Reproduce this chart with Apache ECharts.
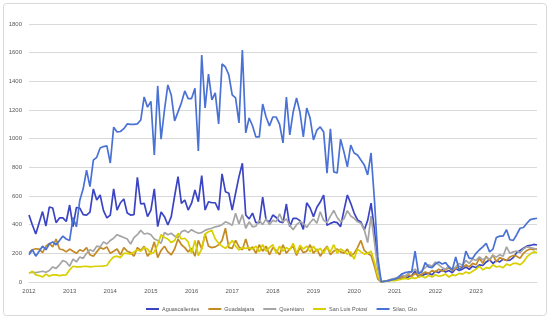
<!DOCTYPE html>
<html>
<head>
<meta charset="utf-8">
<script src="https://cdn.jsdelivr.net/npm/echarts@6.0.0/dist/echarts.min.js"></script>
<style>
html,body{margin:0;padding:0;background:#fff;}
#chart{width:550px;height:320px;}
</style>
</head>
<body>
<div id="chart"></div>
<script>
// Tick labels of the x axis (one per January)
const yearLabels = ['2012','2013','2014','2015','2016','2017','2018','2019','2020','2021','2022','2023'];
const lastYearMonths = 7; // months shown after the last full year
const seriesNames = ['Aguascalientes','Guadalajara','Querétaro','San Luis Potosí','Silao, Gto'];

const aguascalientes = [
  467,398,335,414,491,391,523,516,414,447,447,422,
  537,386,520,516,470,467,488,649,572,607,498,447,
  467,649,502,553,579,481,467,470,730,544,549,456,
  502,650,386,488,456,398,456,600,735,549,572,502,
  550,642,560,742,502,560,553,553,502,754,630,619,
  502,619,735,828,467,440,481,414,414,593,433,419,
  467,450,420,414,544,386,444,444,428,367,553,516,
  456,521,558,607,395,409,419,414,386,500,607,549,
  481,433,419,363,430,550,363,107,2,5,8,12,
  15,20,25,30,35,45,75,35,45,55,60,50,
  75,65,85,70,80,65,95,80,90,105,88,110,
  100,120,115,140,155,130,150,140,160,150,153,170,
  205,220,235,250,255,262,258
];
const guadalajara = [
  205,225,232,230,205,250,270,245,300,230,225,210,
  230,215,200,225,215,240,190,180,210,240,230,245,
  200,215,230,190,240,215,205,180,240,220,250,180,
  210,280,170,220,250,210,190,230,300,260,240,210,
  235,180,290,230,335,250,240,245,260,290,375,240,
  235,290,245,225,300,220,245,200,260,215,250,190,
  240,220,190,260,200,230,250,185,240,205,215,260,
  200,230,180,220,250,190,215,230,210,200,230,180,
  200,240,290,220,200,185,110,20,0,5,10,15,
  20,25,40,30,50,40,60,45,55,70,60,80,
  70,90,75,85,100,80,95,110,100,120,105,130,
  120,165,130,180,150,190,140,170,160,150,175,185,
  180,165,200,220,230,225,232
];
const queretaro = [
  63,68,65,70,75,68,80,105,95,120,150,140,
  110,160,140,175,165,200,225,215,250,245,280,265,
  290,305,330,320,310,300,265,310,330,360,335,340,
  330,300,290,270,345,330,340,320,310,350,360,345,
  365,350,340,345,360,370,375,385,390,400,420,410,
  395,480,405,470,375,420,385,390,430,400,440,400,
  430,420,475,420,440,395,365,400,420,410,380,415,
  440,410,490,430,415,460,500,450,420,440,498,460,
  445,420,410,365,275,460,280,90,0,5,10,20,
  25,35,50,40,60,70,90,60,80,100,120,110,
  140,120,100,90,110,85,105,130,115,150,130,160,
  150,175,155,170,160,185,175,190,180,245,200,210,
  215,205,230,245,240,235,225
];
const sanLuisPotosi = [
  60,75,50,45,35,55,40,50,50,45,48,50,
  85,110,105,105,108,110,105,108,110,110,112,115,
  150,175,180,170,200,200,195,210,225,215,240,230,
  195,210,260,330,310,300,275,290,340,300,305,280,
  200,290,185,230,335,350,360,300,270,250,235,260,
  290,250,223,240,235,240,230,250,210,260,215,240,
  260,200,250,215,240,225,270,200,255,230,250,210,
  250,215,235,200,245,210,260,200,230,215,195,210,
  160,230,210,195,200,215,140,40,0,5,10,10,
  10,15,20,25,20,30,25,35,40,30,45,35,
  50,40,45,55,35,50,45,60,55,70,60,75,
  90,110,85,100,95,120,105,110,100,125,115,130,
  130,120,140,175,195,210,205
];
const silao = [
  190,225,180,215,250,225,265,280,260,290,320,300,
  290,450,385,570,650,780,665,850,870,935,945,950,
  830,1080,1047,1050,1070,1103,1100,1100,1103,1130,1291,1220,
  1260,886,1368,997,1200,1375,1305,1124,1187,1250,1333,1280,
  1280,1352,915,1584,1214,1451,1270,1319,1103,1521,1500,1445,
  1305,1284,1110,1619,1040,1144,1090,1012,1012,1242,1151,1089,
  1151,1151,1100,970,1291,1026,1186,1284,1186,1012,1214,1144,
  991,1060,1082,1047,760,1068,768,760,997,907,803,955,
  900,886,851,817,747,900,572,175,0,5,10,15,
  20,30,55,65,70,70,215,60,70,135,105,100,
  125,140,125,135,105,85,175,85,105,215,165,165,
  200,225,245,270,210,230,310,320,320,365,295,290,
  330,375,380,410,435,440,445
];

// month categories
const months = [];
const totalYears = yearLabels.length + 1;
for (let y = 0; y < totalYears; y++) {
  const yr = String(2012 + y);
  const n = (y < yearLabels.length) ? 12 : lastYearMonths;
  for (let m = 0; m < n; m++) months.push(yr + '-' + String(m + 1).padStart(2, '0'));
}

const colors = ['#3B45C4', '#C48A24', '#A5A5A5', '#D8CF00', '#4A72D4'];
const allData = [aguascalientes, guadalajara, queretaro, sanLuisPotosi, silao];

const chart = echarts.init(document.getElementById('chart'), null, {renderer: 'canvas'});
chart.setOption({
  animation: false,
  backgroundColor: '#fff',
  color: colors,
  graphic: [{
    type: 'rect',
    shape: {x: 3.5, y: 3.5, width: 543, height: 312, r: 3},
    style: {fill: 'none', stroke: '#D9D9D9', lineWidth: 1},
    silent: true
  }],
  grid: {left: 29, right: 13, top: 24, bottom: 38},
  legend: {
    left: 141, top: 301,
    icon: 'rect', itemWidth: 13, itemHeight: 2, itemGap: 9,
    textStyle: {fontSize: 5.5, color: '#595959', fontFamily: 'Liberation Sans', padding: [0, 0, 0, -2]},
    data: seriesNames
  },
  xAxis: {
    type: 'category',
    boundaryGap: false,
    data: months,
    axisLine: {show: true, lineStyle: {color: '#D9D9D9', width: 1}},
    axisTick: {show: false},
    axisLabel: {
      interval: function (idx) { return idx % 12 === 0 && idx / 12 < yearLabels.length; },
      formatter: function (v, idx) { return yearLabels[Math.floor(idx / 12)] || ''; },
      fontSize: 6, color: '#595959', fontFamily: 'Liberation Sans', margin: 6
    },
    splitLine: {show: false}
  },
  yAxis: {
    type: 'value', min: 0, max: 1800, interval: 200,
    axisLine: {show: false}, axisTick: {show: false},
    axisLabel: {fontSize: 6, color: '#595959', fontFamily: 'Liberation Sans', margin: 7,
      formatter: function (v) { return String(v); }},
    splitLine: {lineStyle: {color: '#D9D9D9', width: 1}}
  },
  series: seriesNames.map(function (name, k) {
    return {
      name: name, type: 'line', data: allData[k],
      showSymbol: false, symbol: 'none',
      lineStyle: {width: 1.7, color: colors[k]},
      itemStyle: {color: colors[k]}
    };
  })
});
</script>
</body>
</html>
